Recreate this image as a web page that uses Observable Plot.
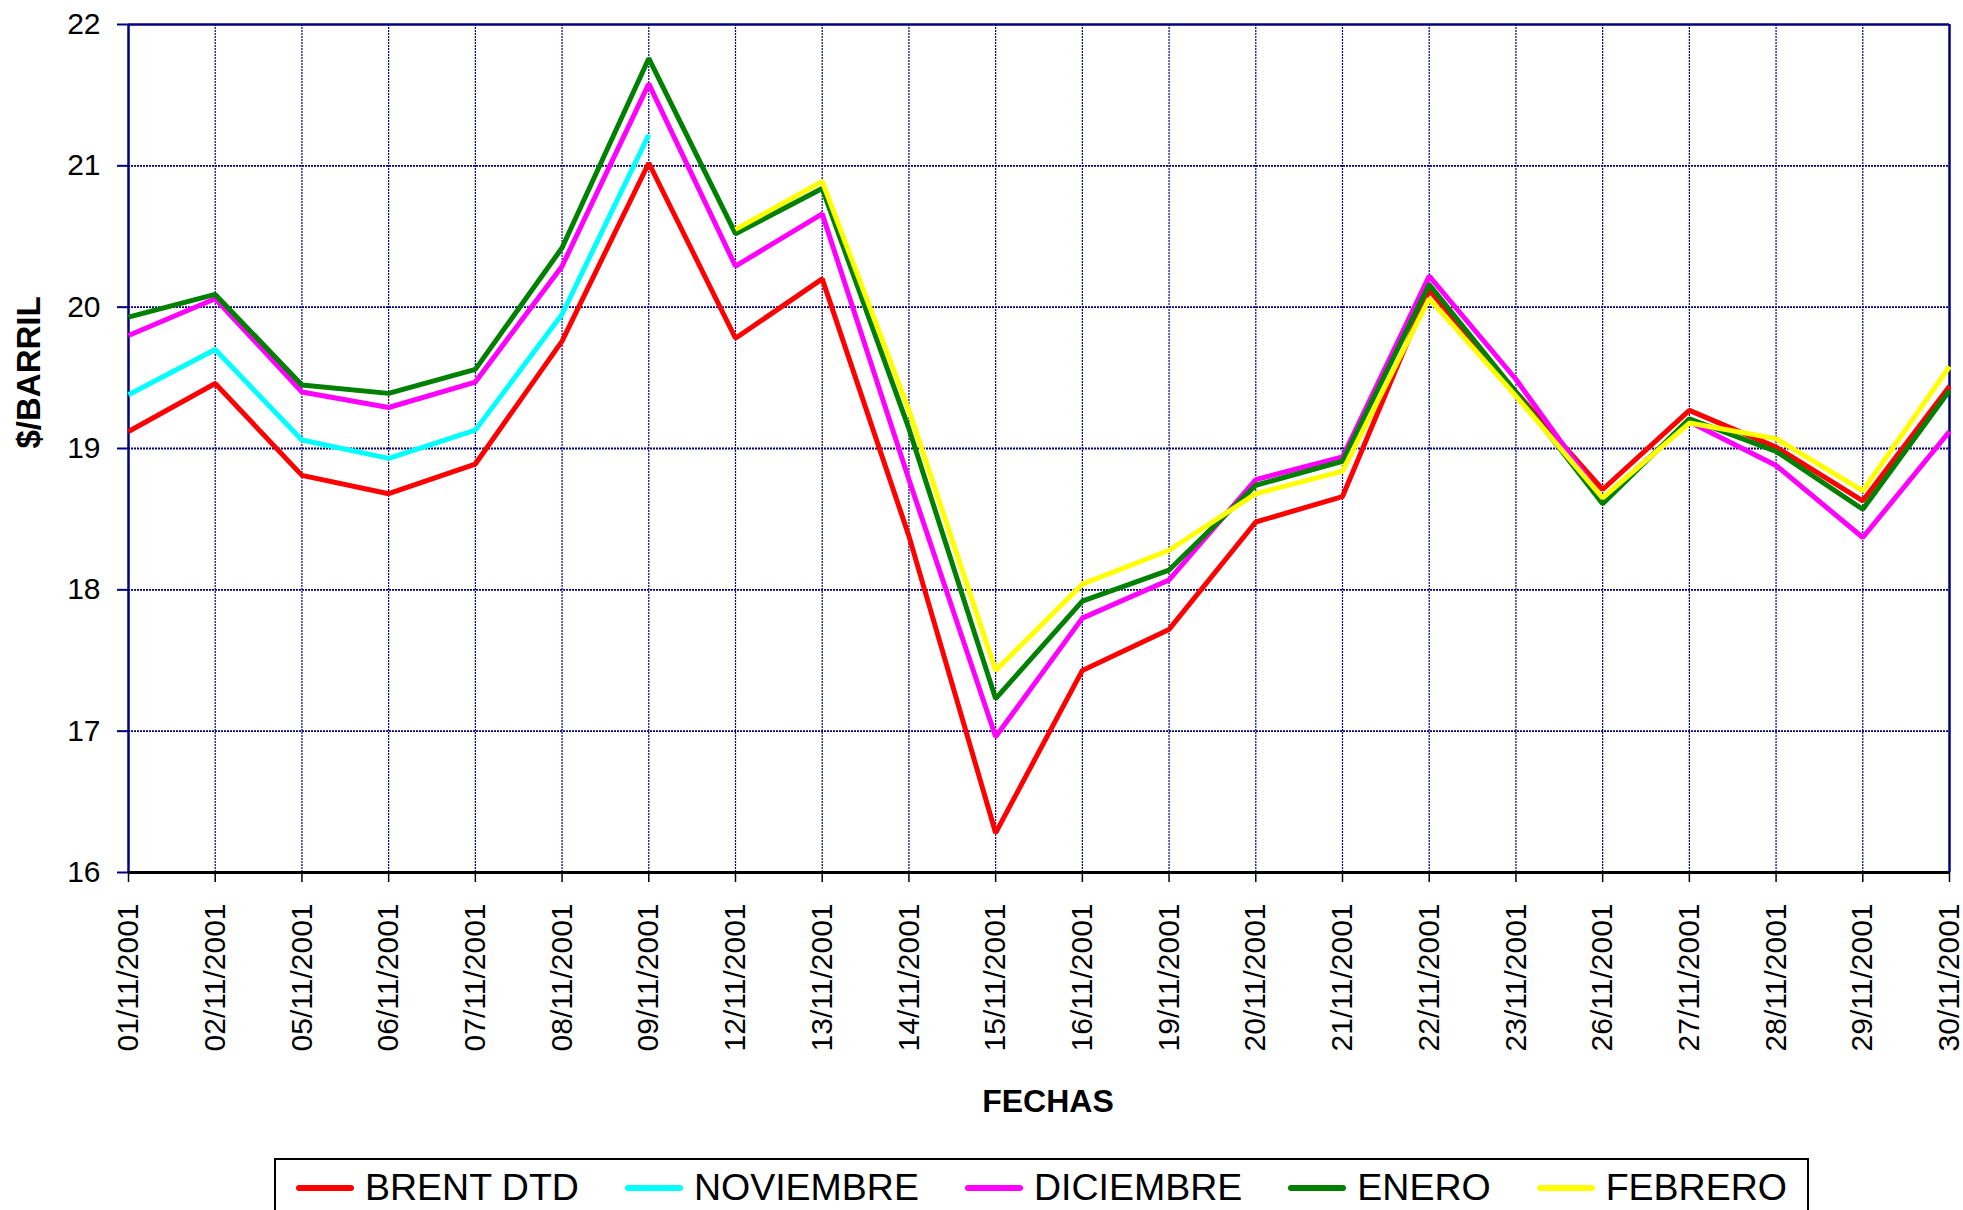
<!DOCTYPE html>
<html>
<head>
<meta charset="utf-8">
<script src="https://cdn.jsdelivr.net/npm/d3@7"></script>
<script src="https://cdn.jsdelivr.net/npm/@observablehq/plot@0.6"></script>
<style>
  html, body { margin: 0; padding: 0; background: #fff; overflow: hidden; }
  body { width: 1963px; height: 1210px; font-family: "Liberation Sans", Arial, sans-serif; }
  #legend {
    margin-left: 274px; width: 1535px; height: 90px; box-sizing: border-box;
    border: 2px solid #000; display: flex; align-items: center;
    padding-left: 20px; padding-bottom: 30px; gap: 46px;
    font-size: 37.5px; line-height: 1; color: #000;
  }
  .item { display: flex; align-items: center; }
  .sw { width: 58px; height: 6px; border-radius: 3px; margin-right: 11px; }
</style>
</head>
<body>
<div id="chart"></div>
<div id="legend"></div>
<script>
const dates = ["01/11/2001","02/11/2001","05/11/2001","06/11/2001","07/11/2001","08/11/2001","09/11/2001","12/11/2001","13/11/2001","14/11/2001","15/11/2001","16/11/2001","19/11/2001","20/11/2001","21/11/2001","22/11/2001","23/11/2001","26/11/2001","27/11/2001","28/11/2001","29/11/2001","30/11/2001"];

const seriesNames = ["BRENT DTD", "NOVIEMBRE", "DICIEMBRE", "ENERO", "FEBRERO"];
const seriesColors = ["#FF0000", "#00FFFF", "#FF00FF", "#008000", "#FFFF00"];

const brentDtd  = [19.12,19.46,18.81,18.68,18.89,19.76,21.02,19.78,20.20,18.38,16.28,17.43,17.72,18.48,18.66,20.12,19.40,18.71,19.27,19.01,18.63,19.44];
const noviembre = [19.38,19.70,19.06,18.93,19.13,19.95,21.22,null,null,null,null,null,null,null,null,null,null,null,null,null,null,null];
const diciembre = [19.80,20.06,19.40,19.29,19.47,20.29,21.58,20.29,20.66,18.78,16.96,17.80,18.07,18.78,18.94,20.22,19.49,18.64,19.19,18.88,18.37,19.12];
const enero     = [19.93,20.09,19.45,19.39,19.56,20.42,21.76,20.52,20.84,19.14,17.23,17.92,18.14,18.74,18.91,20.16,19.40,18.61,19.21,18.98,18.57,19.41];
const febrero   = [null,null,null,null,null,null,null,20.55,20.89,19.27,17.43,18.04,18.28,18.68,18.84,20.06,19.37,18.65,19.18,19.07,18.70,19.58];

const yTicks = [16, 17, 18, 19, 20, 21, 22];
const yTitle = "$/BARRIL";
const xTitle = "FECHAS";

const allSeries = [brentDtd, noviembre, diciembre, enero, febrero];
const tidy = [];
allSeries.forEach((vals, i) => {
  vals.forEach((v, j) => {
    if (v != null) tidy.push({series: seriesNames[i], date: dates[j], value: v});
  });
});

const navy = "#000080";

const chart = Plot.plot({
  width: 1963,
  height: 1158,
  marginLeft: 128,
  marginRight: 14,
  marginTop: 24,
  marginBottom: 286,
  style: {fontFamily: "'Liberation Sans', Arial, sans-serif", fontSize: "30px", background: "#fff", color: "#000"},
  x: {type: "point", domain: dates, padding: 0, round: false, label: null},
  y: {domain: [16, 22], ticks: yTicks, label: null},
  color: {domain: seriesNames, range: seriesColors},
  marks: [
    Plot.ruleX(dates.slice(1, -1), {x: d => d, stroke: navy, strokeWidth: 1.2, strokeDasharray: "2,1"}),
    Plot.ruleY(yTicks.slice(1, -1), {y: d => d, stroke: navy, strokeWidth: 1.8, strokeDasharray: "2,1"}),
    Plot.ruleY([yTicks[yTicks.length - 1]], {y: d => d, stroke: navy, strokeWidth: 2.5}),
    Plot.ruleX([dates[0], dates[dates.length - 1]], {x: d => d, stroke: navy, strokeWidth: 2.5}),
    Plot.axisY({ticks: yTicks, tickFormat: d => String(d), tickSize: 11, tickPadding: 17, fontSize: 30, stroke: navy, strokeWidth: 2, fill: "#000", label: null}),
    Plot.axisX({tickRotate: -90, tickSize: 10, tickPadding: 21, fontSize: 30, stroke: "#000", strokeWidth: 1.5, fill: "#000", label: null}),
    Plot.line(tidy, {x: "date", y: "value", z: "series", stroke: "series", strokeWidth: 5, strokeLinejoin: "miter", strokeLinecap: "butt"}),
    Plot.ruleY([yTicks[0]], {y: d => d, stroke: "#000", strokeWidth: 3}),
    Plot.text([yTitle], {frameAnchor: "left", dx: -99, rotate: -90, fontSize: 33, fontWeight: "bold", fill: "#000", text: d => d}),
    Plot.text([xTitle], {frameAnchor: "bottom", dx: 9, dy: 239, fontSize: 32, fontWeight: "bold", fill: "#000", text: d => d})
  ]
});
document.getElementById("chart").appendChild(chart);

const legend = document.getElementById("legend");
seriesNames.forEach((name, i) => {
  const item = document.createElement("div");
  item.className = "item";
  const sw = document.createElement("span");
  sw.className = "sw";
  sw.style.background = seriesColors[i];
  const label = document.createElement("span");
  label.textContent = name;
  item.appendChild(sw);
  item.appendChild(label);
  legend.appendChild(item);
});
</script>
</body>
</html>
